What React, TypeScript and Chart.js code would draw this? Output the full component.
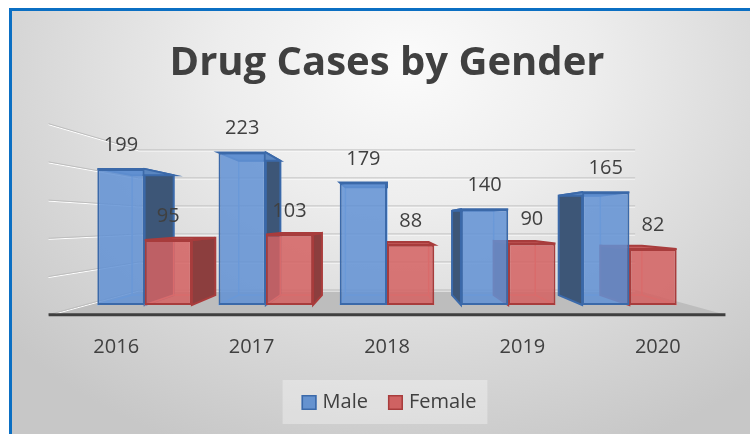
import React, { useEffect, useRef } from "react";
import { Chart, registerables } from "chart.js";

Chart.register(...registerables);

// ---- data ----
const categories = ["2016", "2017", "2018", "2019", "2020"];
const maleValues = [199, 223, 179, 140, 165];
const femaleValues = [95, 103, 88, 90, 82];
const seriesNames = ["Male", "Female"];
const titleText = "Drug Cases by Gender";
const yMin = 0;
const yMax = 250;
const yStep = 50;

// ---- style ----
const FONT = "'Open Sans', sans-serif";
const TEXT = "#404040";
const K_BACK = 0.88; // depth of bar back faces
const K_WALL = 0.819; // depth of back wall
const K_FRONT = 1.117; // front edge of floor / left wall
const STYLES = [
  {
    front: "rgba(98,146,212,0.86)",
    border: "#3b69a9",
    side: "#3d5677",
    top: "#5a86c0",
    edge: "rgba(150,190,240,0.95)",
    legend: "#6592cf",
  },
  {
    front: "rgba(212,98,98,0.86)",
    border: "#a83c3c",
    side: "#8c3e3e",
    top: "#c45c5c",
    edge: "rgba(245,160,160,0.95)",
    legend: "#cf6262",
  },
];

function getPersp(chart: any) {
  const { left, right, top, bottom } = chart.chartArea;
  const vx = (left + right) / 2;
  const vy = bottom - 0.485 * (bottom - top);
  return {
    vx,
    vy,
    P: (x: number, y: number, k: number) => [vx + k * (x - vx), vy + k * (y - vy)],
  };
}

function poly(ctx: CanvasRenderingContext2D, pts: number[][]) {
  ctx.beginPath();
  ctx.moveTo(pts[0][0], pts[0][1]);
  for (let i = 1; i < pts.length; i++) ctx.lineTo(pts[i][0], pts[i][1]);
  ctx.closePath();
}

const threeDPlugin = {
  id: "threeD",
  beforeDatasetsDraw(chart: any) {
    const ctx: CanvasRenderingContext2D = chart.ctx;
    const { left, right } = chart.chartArea;
    const { vx, P } = getPersp(chart);
    const ys = chart.scales.y;
    const base = ys.getPixelForValue(0);
    ctx.save();

    // floor
    const fl = P(left, base, K_FRONT);
    const fr = P(right, base, K_FRONT);
    const br = P(right, base, K_WALL);
    const bl = P(left, base, K_WALL);
    ctx.fillStyle = "#bdbdbd";
    poly(ctx, [fl, fr, br, bl]);
    ctx.fill();

    // wall grid lines
    const ticks = ys.ticks || [];
    ticks.forEach((t: any) => {
      const y = ys.getPixelForValue(t.value);
      const a = P(left, y, K_FRONT);
      const b = P(left, y, K_WALL);
      const c = P(right, y, K_WALL);
      ctx.lineWidth = 1;
      ctx.strokeStyle = "#ffffff";
      ctx.beginPath();
      ctx.moveTo(a[0], a[1] + 1);
      ctx.lineTo(b[0], b[1] + 1);
      ctx.lineTo(c[0], c[1] + 1);
      ctx.stroke();
      ctx.strokeStyle = "#bdbdbd";
      ctx.beginPath();
      ctx.moveTo(a[0], a[1]);
      ctx.lineTo(b[0], b[1]);
      ctx.lineTo(c[0], c[1]);
      ctx.stroke();
    });

    // floor front edge
    ctx.strokeStyle = "#3f3f3f";
    ctx.lineWidth = 3;
    ctx.beginPath();
    ctx.moveTo(fl[0], fl[1]);
    ctx.lineTo(fr[0], fr[1]);
    ctx.stroke();

    // bar depth faces
    chart.data.datasets.forEach((ds: any, d: number) => {
      const meta = chart.getDatasetMeta(d);
      const st = STYLES[d];
      meta.data.forEach((el: any) => {
        const { x, y, base: b, width } = el.getProps(["x", "y", "base", "width"], true);
        const L = x - width / 2;
        const R = x + width / 2;
        const T = y;
        const B = b;
        const bLT = P(L, T, K_BACK);
        const bRT = P(R, T, K_BACK);
        const bLB = P(L, B, K_BACK);
        const bRB = P(R, B, K_BACK);
        // back edges
        ctx.lineWidth = 1.5;
        ctx.strokeStyle = st.edge;
        poly(ctx, [bLT, bRT, bRB, bLB]);
        ctx.stroke();
        ctx.beginPath();
        ctx.moveTo(L, B);
        ctx.lineTo(bLB[0], bLB[1]);
        ctx.moveTo(R, B);
        ctx.lineTo(bRB[0], bRB[1]);
        ctx.stroke();
        // side faces
        ctx.lineWidth = 2;
        ctx.strokeStyle = st.border;
        ctx.fillStyle = st.side;
        if (R < vx - 1) {
          poly(ctx, [[R, T], [R, B], bRB, bRT]);
          ctx.fill();
          ctx.stroke();
        }
        if (L > vx + 1) {
          poly(ctx, [[L, T], [L, B], bLB, bLT]);
          ctx.fill();
          ctx.stroke();
        }
        // top face
        ctx.fillStyle = st.top;
        poly(ctx, [[L, T], [R, T], bRT, bLT]);
        ctx.fill();
        ctx.stroke();
      });
    });
    ctx.restore();
  },
  afterDraw(chart: any) {
    const ctx: CanvasRenderingContext2D = chart.ctx;
    const { vx, P } = getPersp(chart);
    const ys = chart.scales.y;
    const xs = chart.scales.x;
    const base = ys.getPixelForValue(0);
    ctx.save();
    ctx.fillStyle = TEXT;
    ctx.font = `20px ${FONT}`;
    ctx.textAlign = "center";
    ctx.textBaseline = "alphabetic";

    // data labels
    chart.data.datasets.forEach((ds: any, d: number) => {
      const meta = chart.getDatasetMeta(d);
      meta.data.forEach((el: any, i: number) => {
        const { x, y } = el.getProps(["x", "y"], true);
        ctx.fillText(String(ds.data[i]), x, y - 18);
      });
    });

    // category labels on the floor front edge
    chart.data.labels.forEach((lab: string, i: number) => {
      const cx = xs.getPixelForValue(i);
      const p = P(cx, base, K_FRONT);
      ctx.fillText(lab, p[0], base + 48);
    });

    // legend
    ctx.textAlign = "left";
    const sq = 15;
    const gap = 6;
    const itemGap = 20;
    const widths = chart.data.datasets.map((ds: any) => ctx.measureText(ds.label).width);
    const total =
      widths.reduce((s: number, w: number) => s + w, 0) +
      chart.data.datasets.length * (sq + gap) +
      itemGap * (chart.data.datasets.length - 1);
    let lx = vx + 2 - total / 2;
    ctx.fillStyle = "rgba(255,255,255,0.32)";
    ctx.fillRect(lx - 19, base + 75, total + 30, 44);
    chart.data.datasets.forEach((ds: any, d: number) => {
      const st = STYLES[d];
      ctx.fillStyle = st.legend;
      ctx.fillRect(lx, base + 90, sq, sq);
      ctx.strokeStyle = st.border;
      ctx.lineWidth = 1.5;
      ctx.strokeRect(lx + 0.75, base + 90.75, sq - 1.5, sq - 1.5);
      ctx.fillStyle = TEXT;
      ctx.fillText(ds.label, lx + sq + gap, base + 103);
      lx += sq + gap + widths[d] + itemGap;
    });
    ctx.restore();
  },
};

export default function App() {
  const ref = useRef<HTMLCanvasElement | null>(null);

  useEffect(() => {
    if (!ref.current) return;
    const chart = new Chart(ref.current, {
      type: "bar",
      data: {
        labels: categories,
        datasets: [
          {
            label: seriesNames[0],
            data: maleValues,
            backgroundColor: STYLES[0].front,
            borderColor: STYLES[0].border,
            borderWidth: 2,
            borderSkipped: false,
            categoryPercentage: 0.78,
            barPercentage: 1.0,
          },
          {
            label: seriesNames[1],
            data: femaleValues,
            backgroundColor: STYLES[1].front,
            borderColor: STYLES[1].border,
            borderWidth: 2,
            borderSkipped: false,
            categoryPercentage: 0.78,
            barPercentage: 1.0,
          },
        ],
      },
      options: {
        responsive: false,
        maintainAspectRatio: false,
        animation: false,
        events: [],
        layout: { padding: { left: 72, right: 70, top: 0, bottom: 136 } },
        scales: {
          x: { display: false, offset: true },
          y: { display: false, min: yMin, max: yMax, ticks: { stepSize: yStep } },
        },
        plugins: {
          legend: { display: false },
          tooltip: { enabled: false },
          title: {
            display: true,
            text: titleText,
            color: TEXT,
            font: { family: FONT, size: 40, weight: "bold", lineHeight: 1.2 },
            padding: { top: 29, bottom: 46 },
          },
        },
      },
      plugins: [threeDPlugin],
    });
    return () => chart.destroy();
  }, []);

  return (
    <div
      style={{
        position: "fixed",
        left: 9,
        top: 8,
        width: 760,
        height: 440,
        border: "3px solid #0b6fc3",
        overflow: "hidden",
        background:
          "radial-gradient(ellipse 70% 95% at 52% 12%, #fbfbfb 0%, #ededed 35%, #d8d8d8 70%, #c7c7c7 100%)",
      }}
    >
      <canvas ref={ref} width={748} height={430} style={{ display: "block" }} />
    </div>
  );
}
